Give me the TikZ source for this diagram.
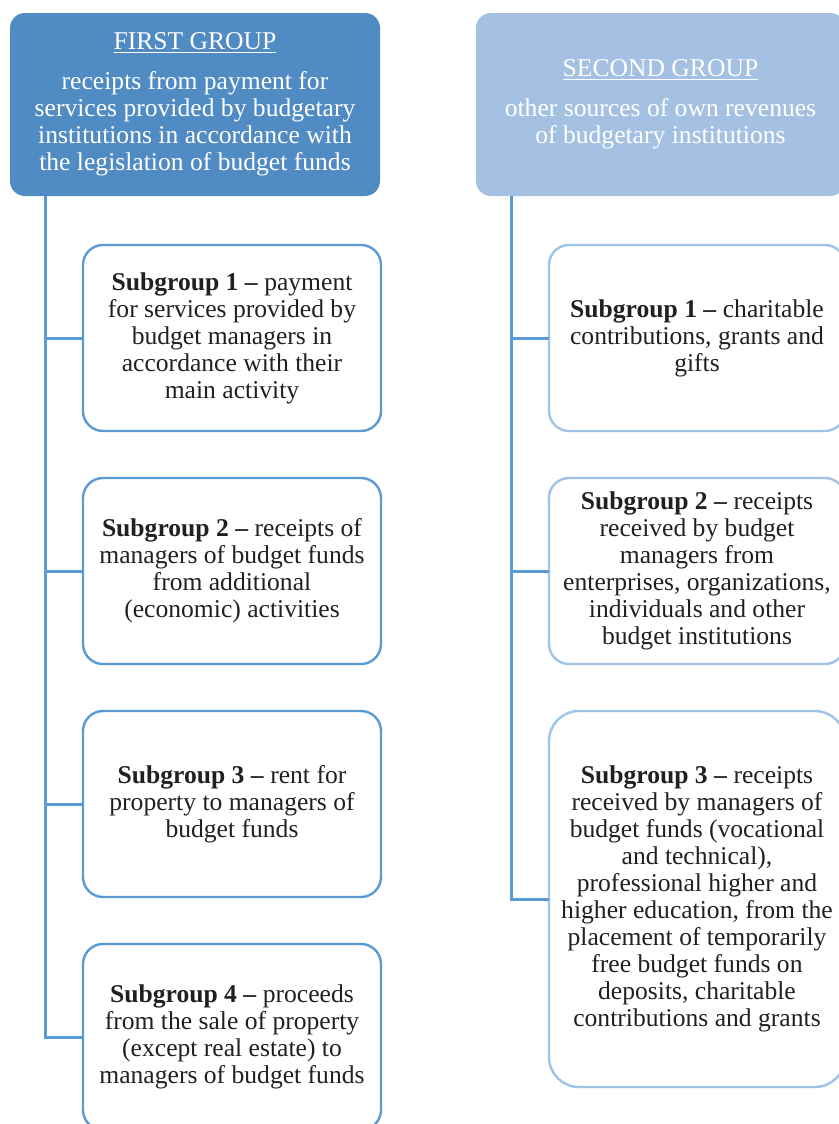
\documentclass[tikz,border=0pt]{standalone}
\usepackage{fontspec}
\setmainfont{Liberation Serif}
\usepackage{xcolor}
\usepackage{tikz}
\usetikzlibrary{positioning}

\definecolor{darkhead}{RGB}{80,139,196}
\definecolor{lighthead}{RGB}{164,192,227}
\definecolor{lineblue}{RGB}{91,155,213}
\definecolor{paleblue}{RGB}{157,195,230}
\definecolor{inktext}{RGB}{35,31,32}

\begin{document}
\begin{tikzpicture}[
    x=0.5pt,y=-0.5pt,
    font=\fontsize{12.8}{13.5}\selectfont,
    head/.style={rounded corners=7.5pt,align=center,text=white,inner sep=0pt,
      minimum height=91.5pt},
    subbox/.style={draw,line width=1.2pt,rounded corners=10pt,align=center,
      text=inktext,inner sep=0pt,outer sep=0pt,minimum width=149pt,minimum height=93pt},
    conn/.style={draw=lineblue,line width=1.5pt},
    node distance=23.5pt
  ]
    \useasboundingbox (0,0) rectangle (839,1124);
    \clip (0,0) rectangle (839,1124);

    % group headers
    \node[head,fill=darkhead,minimum width=185pt] (first) at (195,104.5)
      {\underline{FIRST GROUP}\\[6.5pt]
       receipts from payment for\\
       services provided by budgetary\\
       institutions in accordance with\\
       the legislation of budget funds};
    \node[head,fill=lighthead,minimum width=184.5pt] (second) at (660.5,104.5)
      {\underline{SECOND GROUP}\\[6.5pt]
       other sources of own revenues\\
       of budgetary institutions};

    % first group
    \node[subbox,draw=lineblue] (fsub1) at (232,338)
      {\textbf{Subgroup 1 –} payment\\ for services provided by\\ budget managers in\\
       accordance with their\\ main activity};
    \node[subbox,draw=lineblue,below=of fsub1] (fsub2)
      {\textbf{Subgroup 2 –} receipts of\\ managers of budget funds\\ from additional\\
       (economic) activities};
    \node[subbox,draw=lineblue,below=of fsub2] (fsub3)
      {\textbf{Subgroup 3 –} rent for\\ property to managers of\\ budget funds};
    \node[subbox,draw=lineblue,below=of fsub3] (fsub4)
      {\textbf{Subgroup 4 –} proceeds\\ from the sale of property\\
       (except real estate) to\\ managers of budget funds};

    % second group
    \node[subbox,draw=paleblue,minimum width=148pt] (ssub1) at (697,338)
      {\textbf{Subgroup 1 –} charitable\\ contributions, grants and\\ gifts};
    \node[subbox,draw=paleblue,minimum width=148pt,below=of ssub1] (ssub2)
      {\textbf{Subgroup 2 –} receipts\\ received by budget\\ managers from\\
       enterprises, organizations,\\ individuals and other\\ budget institutions};
    \node[subbox,draw=paleblue,minimum width=148pt,minimum height=188pt,
      rounded corners=15pt,below=of ssub2] (ssub3)
      {\textbf{Subgroup 3 –} receipts\\ received by managers of\\ budget funds (vocational\\
       and technical),\\ professional higher and\\ higher education, from the\\
       placement of temporarily\\ free budget funds on\\ deposits, charitable\\
       contributions and grants};

    % trunks
    \coordinate (ftrunk) at ([xshift=18pt]first.south west);
    \coordinate (strunk) at ([xshift=18pt]second.south west);
    \foreach \b in {fsub1,fsub2,fsub3,fsub4}
      \draw[conn] (ftrunk) |- (\b.west);
    \foreach \b in {ssub1,ssub2,ssub3}
      \draw[conn] (strunk) |- (\b.west);
  \end{tikzpicture}
\end{document}
